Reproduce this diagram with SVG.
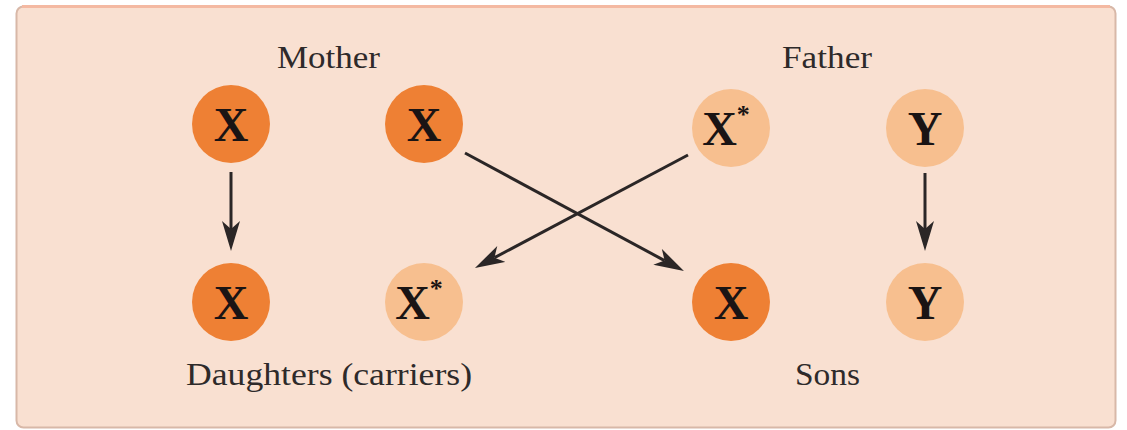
<svg xmlns="http://www.w3.org/2000/svg" width="1127" height="430" viewBox="0 0 1127 430">
<defs>
<marker id="ah" viewBox="0 0 30 18" refX="8" refY="9" markerWidth="30" markerHeight="18" markerUnits="userSpaceOnUse" orient="auto">
<path d="M0,0 L30,9 L0,18 L8,9 Z" fill="#2b2626"/>
</marker>
</defs>
<style>
.dark{fill:#ee8034}
.light{fill:#f7bf8f}
.lbl{font-family:"Liberation Serif",serif;font-size:32px;fill:#2e2a2a}
.g{font-family:"Liberation Serif",serif;font-size:48px;font-weight:bold;fill:#1a1414;text-anchor:middle}
.s{font-size:26px}
.cn{stroke:#2b2626;stroke-width:3;fill:none;marker-end:url(#ah)}
</style>
<rect x="0" y="0" width="1127" height="430" fill="#ffffff"/>
<rect x="16.5" y="6.5" width="1099" height="421" rx="7" fill="#f9e0d1" stroke="#d8b8a8" stroke-width="2"/>
<line x1="22" y1="6.5" x2="1110" y2="6.5" stroke="#f4b9a2" stroke-width="3"/>
<text class="lbl" x="277" y="68" textLength="103" lengthAdjust="spacingAndGlyphs">Mother</text>
<text class="lbl" x="782" y="68" textLength="90" lengthAdjust="spacingAndGlyphs">Father</text>
<text class="lbl" x="186" y="385" textLength="286" lengthAdjust="spacingAndGlyphs">Daughters (carriers)</text>
<text class="lbl" x="795" y="385" textLength="65" lengthAdjust="spacingAndGlyphs">Sons</text>
<g id="mX1"><circle class="dark" cx="231" cy="124" r="39"/><text class="g" x="231" y="141">X</text></g>
<g id="mX2"><circle class="dark" cx="424" cy="124" r="39"/><text class="g" x="424" y="141">X</text></g>
<g id="fXs"><circle class="light" cx="731" cy="128" r="39"/><text class="g" x="726" y="145">X<tspan class="s" dy="-22">*</tspan></text></g>
<g id="fY"><circle class="light" cx="925" cy="128" r="39"/><text class="g" x="925" y="145">Y</text></g>
<g id="dX"><circle class="dark" cx="231" cy="302" r="39"/><text class="g" x="231" y="319">X</text></g>
<g id="dXs"><circle class="light" cx="424" cy="302" r="39"/><text class="g" x="419" y="319">X<tspan class="s" dy="-22">*</tspan></text></g>
<g id="sX"><circle class="dark" cx="731" cy="302" r="39"/><text class="g" x="731" y="319">X</text></g>
<g id="sY"><circle class="light" cx="925" cy="302" r="39"/><text class="g" x="925" y="319">Y</text></g>
<g id="connectors">
<line class="cn" x1="231" y1="172" x2="231" y2="229"/>
<line class="cn" x1="925" y1="173" x2="925" y2="229"/>
<line class="cn" x1="465" y1="153" x2="664.6" y2="260.6"/>
<line class="cn" x1="688" y1="155" x2="494.4" y2="257.7"/>
</g>
</svg>
